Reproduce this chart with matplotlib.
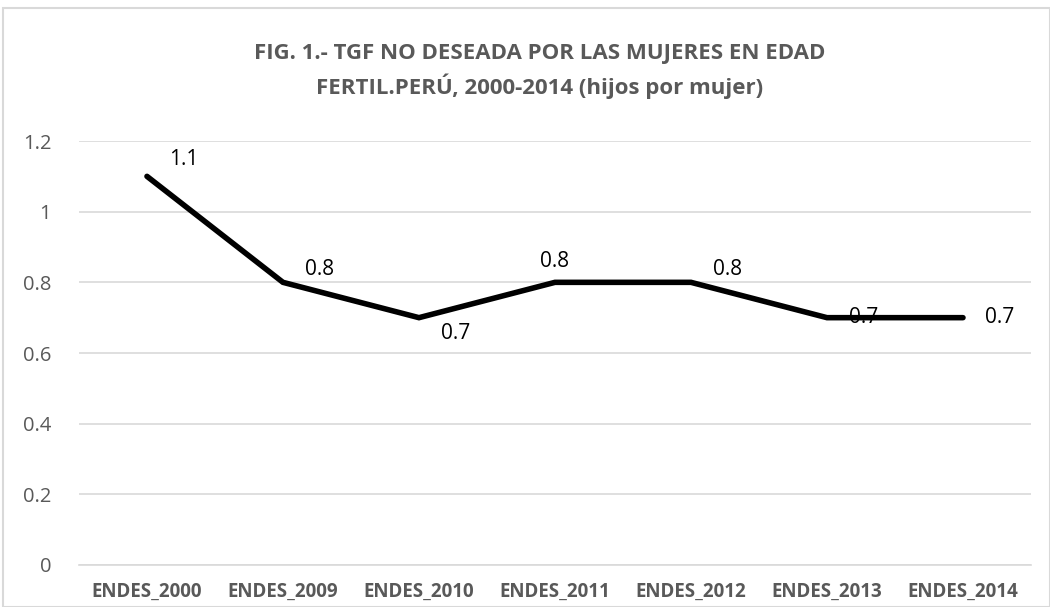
import matplotlib
matplotlib.use("Agg")
import matplotlib.pyplot as plt
from matplotlib.patches import Rectangle

categories = ["ENDES_2000", "ENDES_2009", "ENDES_2010", "ENDES_2011",
              "ENDES_2012", "ENDES_2013", "ENDES_2014"]
values = [1.1, 0.8, 0.7, 0.8, 0.8, 0.7, 0.7]
labels = ["1.1", "0.8", "0.7", "0.8", "0.8", "0.7", "0.7"]
yticks = [0, 0.2, 0.4, 0.6, 0.8, 1.0, 1.2]
ytick_labels = ["0", "0.2", "0.4", "0.6", "0.8", "1", "1.2"]

plt.rcParams['font.family'] = ['Open Sans', 'DejaVu Sans']

fig = plt.figure(figsize=(10.5, 6.07), dpi=100)
ax = fig.add_axes([0.0752, 0.0692, 0.9067, 0.6985])

x = list(range(len(categories)))
ax.plot(x, values, color='black', linewidth=4, solid_capstyle='round',
        solid_joinstyle='miter', zorder=3)

offsets = [(22, 6), (22, 2), (22, -5), (0, 10), (22, 2), (22, 0), (22, 0)]
aligns = [('left', 'bottom'), ('left', 'bottom'), ('left', 'top'),
          ('center', 'bottom'), ('left', 'bottom'), ('left', 'center'),
          ('left', 'center')]
for xi, v, lab, off, al in zip(x, values, labels, offsets, aligns):
    ax.annotate(lab, (xi, v), xytext=off, textcoords='offset pixels',
                ha=al[0], va=al[1], fontsize=15, color='black', zorder=2)

ax.set_xlim(-0.5, len(categories) - 0.5)
ax.set_ylim(0, 1.2)
ax.set_yticks(yticks)
ax.set_yticklabels(ytick_labels, fontsize=14.5, color='#595959')
ax.set_xticks(x)
ax.set_xticklabels(categories, fontsize=13.5, fontweight='bold', color='#595959')
ax.tick_params(axis='both', length=0)
ax.tick_params(axis='y', pad=20)
ax.tick_params(axis='x', pad=12)
ax.grid(axis='y', color='#d9d9d9', linewidth=1.2)
ax.set_axisbelow(True)
for s in ['top', 'right', 'left']:
    ax.spines[s].set_visible(False)
ax.spines['bottom'].set_color('#d9d9d9')
ax.spines['bottom'].set_linewidth(1.2)

fig.text(0.514, 0.883, "FIG. 1.- TGF NO DESEADA POR LAS MUJERES EN EDAD\nFERTIL.PERÚ, 2000-2014 (hijos por mujer)",
         ha='center', va='center', fontsize=16, fontweight='bold', color='#595959',
         linespacing=1.45)

fig.patches.append(Rectangle((3 / 1050, 0), 1 - 3 / 1050, 1 - 8 / 607,
                             transform=fig.transFigure, fill=False,
                             edgecolor='#d9d9d9', linewidth=1.5))

fig.savefig("out.png", dpi=100)
